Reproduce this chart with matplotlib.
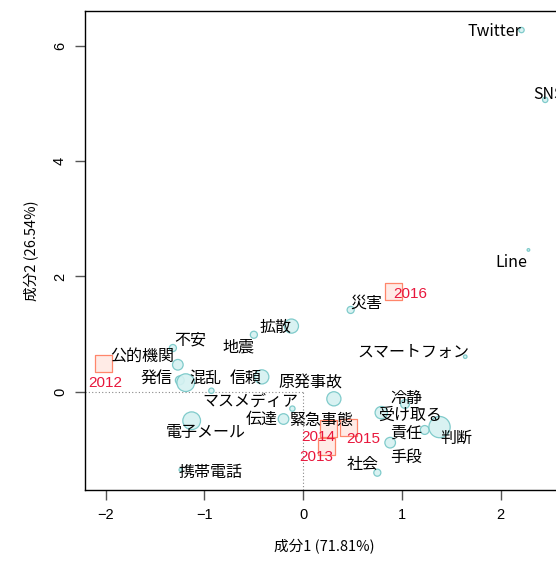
import numpy as np
import matplotlib
matplotlib.use("Agg")
import matplotlib.pyplot as plt

plt.rcParams['font.family'] = ['Noto Sans CJK JP', 'DejaVu Sans']

# words: position, bubble radius (px) and label position
words = ['Twitter', 'SNS', 'Line', '災害', '拡散', '地震', '不安', '公的機関',
         '発信', '混乱', '信頼', '原発事故', 'マスメディア', '伝達', '緊急事態',
         '電子メール', '冷静', '受け取る', '責任', '判断', '手段', '社会',
         '携帯電話', 'スマートフォン']
word_x = [2.21, 2.45, 2.28, 0.48, -0.12, -0.50, -1.32, -1.27,
          -1.25, -1.19, -0.42, 0.31, -0.93, -0.20, -0.11,
          -1.13, 1.03, 0.79, 1.23, 1.38, 0.88, 0.75,
          -1.24, 1.64]
word_y = [6.27, 5.06, 2.46, 1.42, 1.14, 0.99, 0.76, 0.47,
          0.20, 0.16, 0.26, -0.12, 0.02, -0.47, -0.29,
          -0.50, -0.21, -0.36, -0.66, -0.61, -0.88, -1.40,
          -1.35, 0.61]
word_r = [3, 3, 1.5, 4, 8, 4, 4, 6,
          5, 10, 8, 8, 3, 6, 3,
          10, 5, 7, 5, 12, 6, 4,
          2, 2]
label_x = [1.94, 2.48, 2.11, 0.64, -0.28, -0.66, -1.14, -1.63,
           -1.49, -0.99, -0.58, 0.07, -0.54, -0.42, 0.18,
           -0.99, 1.04, 1.08, 1.04, 1.55, 1.04, 0.60,
           -0.94, 1.12]
label_y = [6.24, 5.15, 2.24, 1.54, 1.11, 0.78, 0.90, 0.61,
           0.24, 0.24, 0.23, 0.16, -0.16, -0.47, -0.49,
           -0.71, -0.12, -0.40, -0.71, -0.81, -1.13, -1.25,
           -1.39, 0.69]

# years (column points)
years = ['2012', '2013', '2014', '2015', '2016']
year_x = [-2.03, 0.23, 0.25, 0.45, 0.91]
year_y = [0.50, -0.94, -0.62, -0.61, 1.75]
year_lx = [-2.00, 0.13, 0.15, 0.61, 1.08]
year_ly = [0.16, -1.13, -0.78, -0.81, 1.70]

fig = plt.figure(figsize=(5.56, 5.64), dpi=100)
ax = fig.add_axes([85 / 556, 74 / 564, 478 / 556, 479 / 564])
ax.set_xlim(-2.21, 2.63)
ax.set_ylim(-1.70, 6.60)

# origin guides, lower-left quadrant only
x0, x1 = ax.get_xlim()
y0, y1 = ax.get_ylim()
ax.plot([x0, 0], [0, 0], color='#888888', lw=0.8, ls=(0, (1, 2)), zorder=0)
ax.plot([0, 0], [y0, 0], color='#888888', lw=0.8, ls=(0, (1, 2)), zorder=0)

# px radius -> points^2 for scatter
s = [(r * 72 / 100) ** 2 * np.pi for r in word_r]
ax.scatter(word_x, word_y, s=s, facecolor='#d5f1f1', edgecolor='#74c6c6',
           linewidths=0.9, alpha=0.9, zorder=2)
ax.scatter(year_x, year_y, s=(17 * 72 / 100) ** 2, marker='s',
           facecolor='#ffe9e4', edgecolor='#ff7a5c', linewidths=0.9,
           alpha=0.9, zorder=3)

for w, lx, ly in zip(words, label_x, label_y):
    ax.text(lx, ly, w, fontsize=11.5, ha='center', va='center', color='black',
            zorder=4)
for yr, lx, ly in zip(years, year_lx, year_ly):
    ax.text(lx, ly, yr, fontsize=11, ha='center', va='center',
            color='#e8173c', family=['Liberation Sans', 'DejaVu Sans'], zorder=4)

ax.set_xticks([-2, -1, 0, 1, 2])
ax.set_yticks([0, 2, 4, 6])
ax.tick_params(direction='out', length=7, width=1, color='#555555',
               labelsize=10.5, pad=6)
for lab in ax.get_xticklabels() + ax.get_yticklabels():
    lab.set_family(['Liberation Sans', 'DejaVu Sans'])
plt.setp(ax.get_yticklabels(), rotation=90, va='center')

ax.set_xlabel('成分1 (71.81%)', fontsize=10.5, labelpad=12)
ax.set_ylabel('成分2 (26.54%)', fontsize=10.5, labelpad=10)

for sp in ax.spines.values():
    sp.set_linewidth(1)

fig.savefig('out.png', dpi=100)
